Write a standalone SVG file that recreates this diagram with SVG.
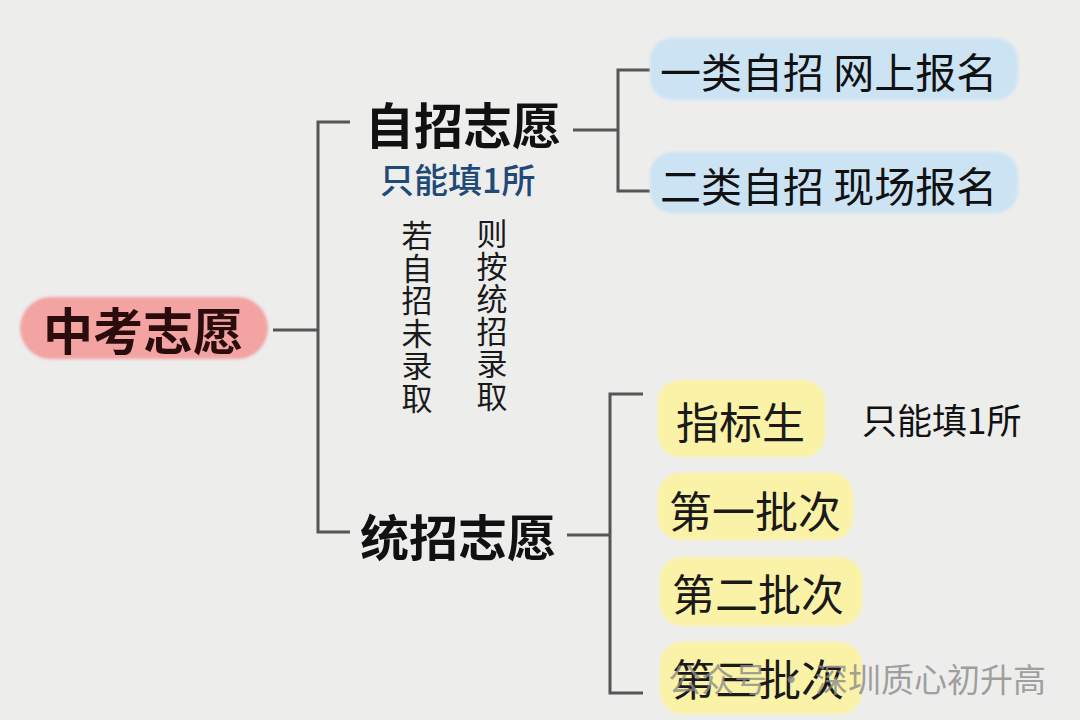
<svg xmlns="http://www.w3.org/2000/svg" width="1080" height="720" viewBox="0 0 1080 720">
  <style>
    text { font-family: "Noto Sans CJK SC", "Noto Sans", sans-serif; dominant-baseline: central; }
    .head { font-size: 49px; font-weight: 700; fill: #111; }
    .leaf { font-size: 41px; fill: #111; }
    .yleaf { font-size: 43px; fill: #1a1a1a; }
    .note { font-size: 35px; fill: #111; }
    .vert { font-size: 31px; fill: #1a1a1a; writing-mode: vertical-rl; letter-spacing: 1.5px; dominant-baseline: auto; }
    .conn { fill: none; stroke: #555; stroke-width: 3; }
  </style>
  <defs>
    <filter id="soft" x="-10%" y="-20%" width="120%" height="140%">
      <feGaussianBlur stdDeviation="1.5"/>
    </filter>
  </defs>
  <rect width="1080" height="720" fill="#ededec"/>

  <g id="connectors">
    <path class="conn" d="M273 330 H318 M350 122 H318 V532 H350"/>
    <path class="conn" d="M573 130 H618 M650 70 H618 V191 H650"/>
    <path class="conn" d="M567 535 H610 M643 394 H610 V693 H643"/>
  </g>

  <g id="root">
    <rect x="20" y="297" width="248" height="62" rx="31" fill="#f2a3a2" filter="url(#soft)"/>
    <text x="43" y="328" style="font-size:50px;font-weight:700;fill:#2a0c0c">中考志愿</text>
  </g>

  <g id="zizhao">
    <text class="head" x="365" y="122">自招志愿</text>
    <text x="380" y="178" style="font-size:34px;font-weight:500;fill:#1f4a75">只能填1所</text>
  </g>

  <g id="leaf1">
    <rect x="650" y="38" width="368" height="62" rx="22" fill="#cce3f4" filter="url(#soft)"/>
    <text class="leaf" x="660" y="70">一类自招 网上报名</text>
  </g>
  <g id="leaf2">
    <rect x="650" y="152" width="368" height="61" rx="22" fill="#cce3f4" filter="url(#soft)"/>
    <text class="leaf" x="660" y="184">二类自招 现场报名</text>
  </g>

  <g id="note-vertical">
    <text class="vert" x="417" y="220">若自招未录取</text>
    <text class="vert" x="492" y="218">则按统招录取</text>
  </g>

  <g id="tongzhao">
    <text class="head" x="360" y="534">统招志愿</text>
  </g>

  <g id="zhibiaosheng">
    <rect x="658" y="380" width="167" height="77" rx="22" fill="#faf2a6" filter="url(#soft)"/>
    <text class="yleaf" x="676" y="420">指标生</text>
  </g>
  <g id="note-zhibiao">
    <text class="note" x="862" y="418">只能填1所</text>
  </g>
  <g id="pici1">
    <rect x="658" y="473" width="195" height="67" rx="22" fill="#faf2a6" filter="url(#soft)"/>
    <text class="yleaf" x="669" y="509">第一批次</text>
  </g>
  <g id="pici2">
    <rect x="660" y="557" width="202" height="69" rx="22" fill="#faf2a6" filter="url(#soft)"/>
    <text class="yleaf" x="672" y="592">第二批次</text>
  </g>
  <g id="pici3">
    <rect x="660" y="642" width="202" height="72" rx="22" fill="#faf2a6" filter="url(#soft)"/>
    <text class="yleaf" x="672" y="677">第三批次</text>
  </g>

  <g id="watermark">
    <text x="1046" y="678" text-anchor="end" style="font-size:33px;fill:#8a8a8a;fill-opacity:0.8">公众号 · 深圳质心初升高</text>
  </g>
</svg>
